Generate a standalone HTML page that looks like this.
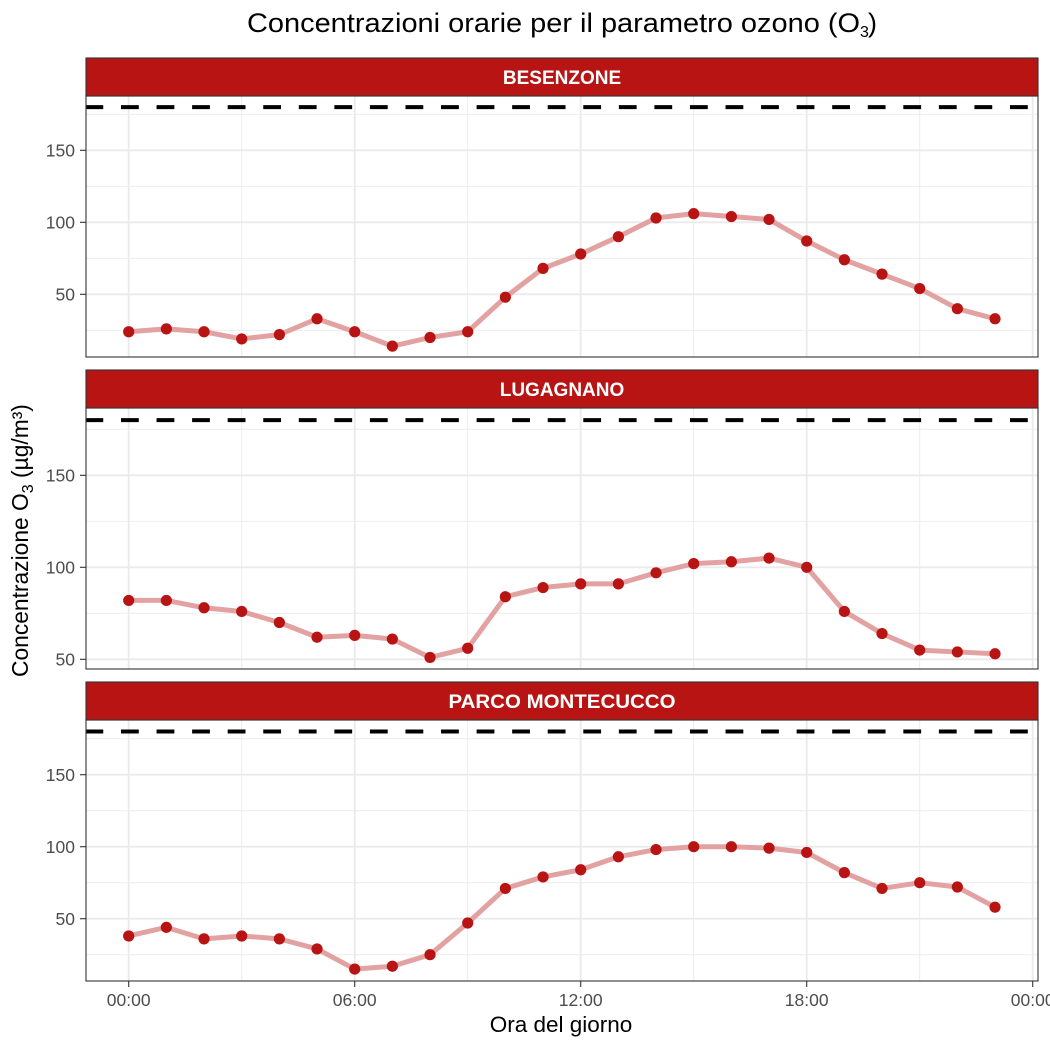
<!DOCTYPE html>
<html><head><meta charset="utf-8"><style>
html,body{margin:0;padding:0;background:#fff;}
svg{display:block;}
text{font-family:"Liberation Sans",Arial,sans-serif;}
</style></head><body>
<svg width="1050" height="1050" viewBox="0 0 1050 1050" xmlns="http://www.w3.org/2000/svg">
<defs>
<clipPath id="c1"><rect x="86" y="96" width="952" height="261"/></clipPath>
<clipPath id="c2"><rect x="86" y="408" width="952" height="261"/></clipPath>
<clipPath id="c3"><rect x="86" y="720" width="952" height="261"/></clipPath>
</defs>
<rect width="1050" height="1050" fill="#fff"/>

<!-- Title -->
<text x="247" y="32" font-size="27" fill="#000" textLength="613" lengthAdjust="spacingAndGlyphs">Concentrazioni orarie per il parametro ozono (O</text>
<text x="860" y="37" font-size="16" fill="#000">3</text>
<text x="868" y="32" font-size="27" fill="#000">)</text>

<!-- ===== Panel 1 ===== -->
<g clip-path="url(#c1)">
<g stroke="#EBEBEB" stroke-width="0.9" fill="none">
<line x1="86" x2="1038" y1="330.3" y2="330.3"/><line x1="86" x2="1038" y1="258.3" y2="258.3"/>
<line x1="86" x2="1038" y1="186.3" y2="186.3"/><line x1="86" x2="1038" y1="114.3" y2="114.3"/>
<line x1="241.7" x2="241.7" y1="96" y2="357"/><line x1="467.7" x2="467.7" y1="96" y2="357"/>
<line x1="693.7" x2="693.7" y1="96" y2="357"/><line x1="919.7" x2="919.7" y1="96" y2="357"/>
</g>
<g stroke="#EBEBEB" stroke-width="1.9" fill="none">
<line x1="86" x2="1038" y1="294.3" y2="294.3"/><line x1="86" x2="1038" y1="222.3" y2="222.3"/>
<line x1="86" x2="1038" y1="150.3" y2="150.3"/>
<line x1="128.7" x2="128.7" y1="96" y2="357"/><line x1="354.7" x2="354.7" y1="96" y2="357"/>
<line x1="580.7" x2="580.7" y1="96" y2="357"/><line x1="806.7" x2="806.7" y1="96" y2="357"/>
<line x1="1032.7" x2="1032.7" y1="96" y2="357"/>
</g>
<line x1="85.44" x2="1040" y1="107.1" y2="107.1" stroke="#000" stroke-width="4" stroke-dasharray="17.8 17.76"/>
<polyline fill="none" stroke="#E3A2A2" stroke-width="5" stroke-linejoin="round" points="128.7,331.74 166.37,328.86 204.03,331.74 241.7,338.94 279.37,334.62 317.03,318.78 354.7,331.74 392.37,346.14 430.03,337.5 467.7,331.74 505.37,297.18 543.03,268.38 580.7,253.98 618.37,236.7 656.03,217.98 693.7,213.66 731.37,216.54 769.03,219.42 806.7,241.02 844.37,259.74 882.03,274.14 919.7,288.54 957.37,308.7 995.03,318.78"/>
<g fill="#B81414">
<circle cx="128.7" cy="331.74" r="5.6"/><circle cx="166.37" cy="328.86" r="5.6"/><circle cx="204.03" cy="331.74" r="5.6"/><circle cx="241.7" cy="338.94" r="5.6"/><circle cx="279.37" cy="334.62" r="5.6"/><circle cx="317.03" cy="318.78" r="5.6"/><circle cx="354.7" cy="331.74" r="5.6"/><circle cx="392.37" cy="346.14" r="5.6"/><circle cx="430.03" cy="337.5" r="5.6"/><circle cx="467.7" cy="331.74" r="5.6"/><circle cx="505.37" cy="297.18" r="5.6"/><circle cx="543.03" cy="268.38" r="5.6"/><circle cx="580.7" cy="253.98" r="5.6"/><circle cx="618.37" cy="236.7" r="5.6"/><circle cx="656.03" cy="217.98" r="5.6"/><circle cx="693.7" cy="213.66" r="5.6"/><circle cx="731.37" cy="216.54" r="5.6"/><circle cx="769.03" cy="219.42" r="5.6"/><circle cx="806.7" cy="241.02" r="5.6"/><circle cx="844.37" cy="259.74" r="5.6"/><circle cx="882.03" cy="274.14" r="5.6"/><circle cx="919.7" cy="288.54" r="5.6"/><circle cx="957.37" cy="308.7" r="5.6"/><circle cx="995.03" cy="318.78" r="5.6"/>
</g>
</g>
<rect x="86" y="96" width="952" height="261" fill="none" stroke="#333" stroke-width="1.1"/>
<rect x="86" y="58" width="952" height="38" fill="#B91414" stroke="#333" stroke-width="1.1"/>
<text x="562" y="84" font-size="19" font-weight="bold" fill="#fff" text-anchor="middle">BESENZONE</text>
<g stroke="#333" stroke-width="1.1">
<line x1="80" x2="86" y1="294.3" y2="294.3"/><line x1="80" x2="86" y1="222.3" y2="222.3"/><line x1="80" x2="86" y1="150.3" y2="150.3"/>
</g>
<g font-size="17.5" fill="#4D4D4D" text-anchor="end">
<text x="75" y="300.5">50</text><text x="75" y="228.5">100</text><text x="75" y="156.5">150</text>
</g>

<!-- ===== Panel 2 ===== -->
<g clip-path="url(#c2)">
<g stroke="#EBEBEB" stroke-width="0.9" fill="none">
<line x1="86" x2="1038" y1="613.3" y2="613.3"/><line x1="86" x2="1038" y1="521.3" y2="521.3"/>
<line x1="86" x2="1038" y1="429.3" y2="429.3"/>
<line x1="241.7" x2="241.7" y1="408" y2="669"/><line x1="467.7" x2="467.7" y1="408" y2="669"/>
<line x1="693.7" x2="693.7" y1="408" y2="669"/><line x1="919.7" x2="919.7" y1="408" y2="669"/>
</g>
<g stroke="#EBEBEB" stroke-width="1.9" fill="none">
<line x1="86" x2="1038" y1="659.3" y2="659.3"/><line x1="86" x2="1038" y1="567.3" y2="567.3"/>
<line x1="86" x2="1038" y1="475.3" y2="475.3"/>
<line x1="128.7" x2="128.7" y1="408" y2="669"/><line x1="354.7" x2="354.7" y1="408" y2="669"/>
<line x1="580.7" x2="580.7" y1="408" y2="669"/><line x1="806.7" x2="806.7" y1="408" y2="669"/>
<line x1="1032.7" x2="1032.7" y1="408" y2="669"/>
</g>
<line x1="85.44" x2="1040" y1="420.1" y2="420.1" stroke="#000" stroke-width="4" stroke-dasharray="17.8 17.76"/>
<polyline fill="none" stroke="#E3A2A2" stroke-width="5" stroke-linejoin="round" points="128.7,600.42 166.37,600.42 204.03,607.78 241.7,611.46 279.37,622.5 317.03,637.22 354.7,635.38 392.37,639.06 430.03,657.46 467.7,648.26 505.37,596.74 543.03,587.54 580.7,583.86 618.37,583.86 656.03,572.82 693.7,563.62 731.37,561.78 769.03,558.1 806.7,567.3 844.37,611.46 882.03,633.54 919.7,650.1 957.37,651.94 995.03,653.78"/>
<g fill="#B81414">
<circle cx="128.7" cy="600.42" r="5.6"/><circle cx="166.37" cy="600.42" r="5.6"/><circle cx="204.03" cy="607.78" r="5.6"/><circle cx="241.7" cy="611.46" r="5.6"/><circle cx="279.37" cy="622.5" r="5.6"/><circle cx="317.03" cy="637.22" r="5.6"/><circle cx="354.7" cy="635.38" r="5.6"/><circle cx="392.37" cy="639.06" r="5.6"/><circle cx="430.03" cy="657.46" r="5.6"/><circle cx="467.7" cy="648.26" r="5.6"/><circle cx="505.37" cy="596.74" r="5.6"/><circle cx="543.03" cy="587.54" r="5.6"/><circle cx="580.7" cy="583.86" r="5.6"/><circle cx="618.37" cy="583.86" r="5.6"/><circle cx="656.03" cy="572.82" r="5.6"/><circle cx="693.7" cy="563.62" r="5.6"/><circle cx="731.37" cy="561.78" r="5.6"/><circle cx="769.03" cy="558.1" r="5.6"/><circle cx="806.7" cy="567.3" r="5.6"/><circle cx="844.37" cy="611.46" r="5.6"/><circle cx="882.03" cy="633.54" r="5.6"/><circle cx="919.7" cy="650.1" r="5.6"/><circle cx="957.37" cy="651.94" r="5.6"/><circle cx="995.03" cy="653.78" r="5.6"/>
</g>
</g>
<rect x="86" y="408" width="952" height="261" fill="none" stroke="#333" stroke-width="1.1"/>
<rect x="86" y="370" width="952" height="38" fill="#B91414" stroke="#333" stroke-width="1.1"/>
<text x="562" y="396" font-size="19" font-weight="bold" fill="#fff" text-anchor="middle">LUGAGNANO</text>
<g stroke="#333" stroke-width="1.1">
<line x1="80" x2="86" y1="659.3" y2="659.3"/><line x1="80" x2="86" y1="567.3" y2="567.3"/><line x1="80" x2="86" y1="475.3" y2="475.3"/>
</g>
<g font-size="17.5" fill="#4D4D4D" text-anchor="end">
<text x="75" y="665.5">50</text><text x="75" y="573.5">100</text><text x="75" y="481.5">150</text>
</g>

<!-- ===== Panel 3 ===== -->
<g clip-path="url(#c3)">
<g stroke="#EBEBEB" stroke-width="0.9" fill="none">
<line x1="86" x2="1038" y1="954.7" y2="954.7"/><line x1="86" x2="1038" y1="882.7" y2="882.7"/>
<line x1="86" x2="1038" y1="810.7" y2="810.7"/><line x1="86" x2="1038" y1="738.7" y2="738.7"/>
<line x1="241.7" x2="241.7" y1="720" y2="981"/><line x1="467.7" x2="467.7" y1="720" y2="981"/>
<line x1="693.7" x2="693.7" y1="720" y2="981"/><line x1="919.7" x2="919.7" y1="720" y2="981"/>
</g>
<g stroke="#EBEBEB" stroke-width="1.9" fill="none">
<line x1="86" x2="1038" y1="918.7" y2="918.7"/><line x1="86" x2="1038" y1="846.7" y2="846.7"/>
<line x1="86" x2="1038" y1="774.7" y2="774.7"/>
<line x1="128.7" x2="128.7" y1="720" y2="981"/><line x1="354.7" x2="354.7" y1="720" y2="981"/>
<line x1="580.7" x2="580.7" y1="720" y2="981"/><line x1="806.7" x2="806.7" y1="720" y2="981"/>
<line x1="1032.7" x2="1032.7" y1="720" y2="981"/>
</g>
<line x1="85.44" x2="1040" y1="731.5" y2="731.5" stroke="#000" stroke-width="4" stroke-dasharray="17.8 17.76"/>
<polyline fill="none" stroke="#E3A2A2" stroke-width="5" stroke-linejoin="round" points="128.7,935.98 166.37,927.34 204.03,938.86 241.7,935.98 279.37,938.86 317.03,948.94 354.7,969.1 392.37,966.22 430.03,954.7 467.7,923.02 505.37,888.46 543.03,876.94 580.7,869.74 618.37,856.78 656.03,849.58 693.7,846.7 731.37,846.7 769.03,848.14 806.7,852.46 844.37,872.62 882.03,888.46 919.7,882.7 957.37,887.02 995.03,907.18"/>
<g fill="#B81414">
<circle cx="128.7" cy="935.98" r="5.6"/><circle cx="166.37" cy="927.34" r="5.6"/><circle cx="204.03" cy="938.86" r="5.6"/><circle cx="241.7" cy="935.98" r="5.6"/><circle cx="279.37" cy="938.86" r="5.6"/><circle cx="317.03" cy="948.94" r="5.6"/><circle cx="354.7" cy="969.1" r="5.6"/><circle cx="392.37" cy="966.22" r="5.6"/><circle cx="430.03" cy="954.7" r="5.6"/><circle cx="467.7" cy="923.02" r="5.6"/><circle cx="505.37" cy="888.46" r="5.6"/><circle cx="543.03" cy="876.94" r="5.6"/><circle cx="580.7" cy="869.74" r="5.6"/><circle cx="618.37" cy="856.78" r="5.6"/><circle cx="656.03" cy="849.58" r="5.6"/><circle cx="693.7" cy="846.7" r="5.6"/><circle cx="731.37" cy="846.7" r="5.6"/><circle cx="769.03" cy="848.14" r="5.6"/><circle cx="806.7" cy="852.46" r="5.6"/><circle cx="844.37" cy="872.62" r="5.6"/><circle cx="882.03" cy="888.46" r="5.6"/><circle cx="919.7" cy="882.7" r="5.6"/><circle cx="957.37" cy="887.02" r="5.6"/><circle cx="995.03" cy="907.18" r="5.6"/>
</g>
</g>
<rect x="86" y="720" width="952" height="261" fill="none" stroke="#333" stroke-width="1.1"/>
<rect x="86" y="682" width="952" height="38" fill="#B91414" stroke="#333" stroke-width="1.1"/>
<text x="562" y="708" font-size="19" font-weight="bold" fill="#fff" text-anchor="middle" textLength="227" lengthAdjust="spacingAndGlyphs">PARCO MONTECUCCO</text>
<g stroke="#333" stroke-width="1.1">
<line x1="80" x2="86" y1="918.7" y2="918.7"/><line x1="80" x2="86" y1="846.7" y2="846.7"/><line x1="80" x2="86" y1="774.7" y2="774.7"/>
</g>
<g font-size="17.5" fill="#4D4D4D" text-anchor="end">
<text x="75" y="924.9">50</text><text x="75" y="852.9">100</text><text x="75" y="780.9">150</text>
</g>

<!-- X axis ticks -->
<g stroke="#333" stroke-width="1.1">
<line x1="128.7" x2="128.7" y1="981" y2="987"/><line x1="354.7" x2="354.7" y1="981" y2="987"/>
<line x1="580.7" x2="580.7" y1="981" y2="987"/><line x1="806.7" x2="806.7" y1="981" y2="987"/>
<line x1="1032.7" x2="1032.7" y1="981" y2="987"/>
</g>
<g font-size="17.5" fill="#4D4D4D" text-anchor="middle">
<text x="128.7" y="1006">00:00</text><text x="354.7" y="1006">06:00</text>
<text x="580.7" y="1006">12:00</text><text x="806.7" y="1006">18:00</text>
<text x="1032.7" y="1006">00:00</text>
</g>

<!-- Axis titles -->
<text x="561" y="1032" font-size="22.5" fill="#000" text-anchor="middle">Ora del giorno</text>
<text transform="translate(28,677) rotate(-90)" font-size="22.8" fill="#000">Concentrazione O<tspan font-size="16" dy="5">3</tspan><tspan dy="-5"> (µg/m³)</tspan></text>
</svg>
</body></html>
